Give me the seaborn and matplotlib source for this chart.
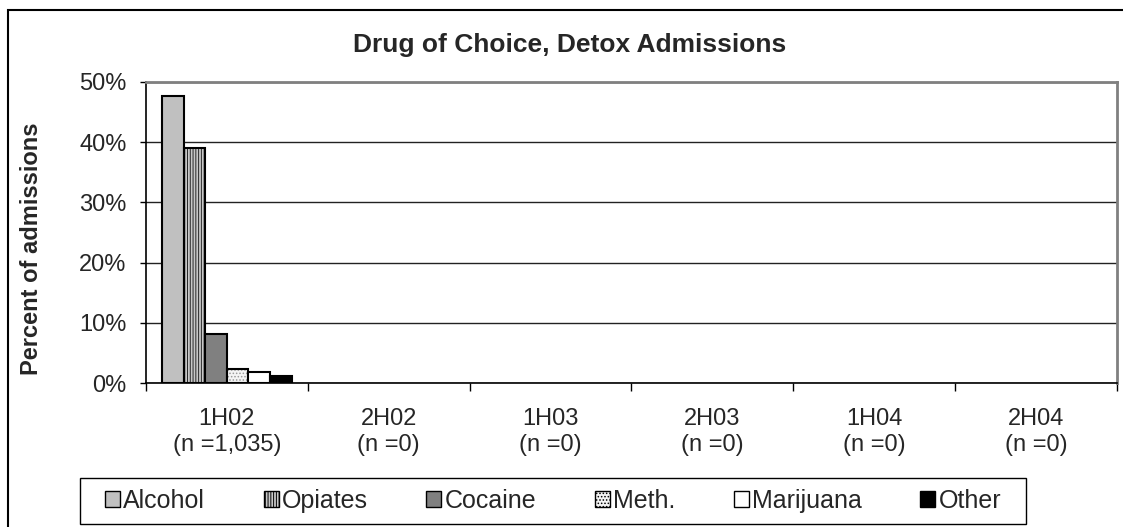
import numpy as np
import pandas as pd
import matplotlib
matplotlib.use("Agg")
import matplotlib.pyplot as plt
import matplotlib.patches as mpatches
import seaborn as sns

# ── data ──────────────────────────────────────
periods = ['1H02\n(n =1,035)', '2H02\n(n =0)', '1H03\n(n =0)',
           '2H03\n(n =0)', '1H04\n(n =0)', '2H04\n(n =0)']
drugs = ['Alcohol', 'Opiates', 'Cocaine', 'Meth.', 'Marijuana', 'Other']
# percent of admissions, one list per drug (1H02 .. 2H04)
alcohol   = [47.7, 0, 0, 0, 0, 0]
opiates   = [39.0, 0, 0, 0, 0, 0]
cocaine   = [8.2, 0, 0, 0, 0, 0]
meth      = [2.3, 0, 0, 0, 0, 0]
marijuana = [1.8, 0, 0, 0, 0, 0]
other     = [1.1, 0, 0, 0, 0, 0]
series = [alcohol, opiates, cocaine, meth, marijuana, other]

rows = []
for drug, vals in zip(drugs, series):
    for per, v in zip(periods, vals):
        rows.append({'period': per, 'drug': drug, 'pct': v})
df = pd.DataFrame(rows)

# ── styles ────────────────────────────────────
faces   = ['#c0c0c0', '#c8c8c8', '#808080', '#f4f4f4', 'white', 'black']
hatches = [None, '||||||', None, '.....', None, None]
hatch_cols = [None, (0.15, 0.15, 0.15, 1), None, (0.6, 0.6, 0.6, 1), None, None]

sns.set_style('white')
plt.rcParams['font.family'] = ['Liberation Sans', 'DejaVu Sans']
plt.rcParams['hatch.linewidth'] = 0.7
FS = 17

fig = plt.figure(figsize=(11.23, 5.27), dpi=100)
ax = fig.add_axes([146/1123, 1-383/527, (1117-146)/1123, (383-82)/527])

sns.barplot(data=df, x='period', y='pct', hue='drug', order=periods,
            hue_order=drugs, width=0.8, ax=ax, legend=False,
            edgecolor='black', linewidth=1.5, saturation=1)

for cont, fc, h, hc in zip(ax.containers, faces, hatches, hatch_cols):
    for p in cont.patches:
        p.set_facecolor(fc)
        p.set_edgecolor('black')
        if h:
            p.set_hatch(h)
            p._hatch_color = hc
        if p.get_height() == 0:
            p.set_linewidth(0)

# axes styling
ax.set_ylim(0, 50)
ax.set_xlim(-0.5, 5.5)
ax.set_yticks(np.arange(0, 51, 10))
ax.set_yticklabels([f'{v}%' for v in range(0, 51, 10)], fontsize=FS)
ax.yaxis.grid(True, color='#222222', linewidth=1)
ax.set_axisbelow(True)
ax.tick_params(axis='y', direction='out', length=4, width=1, color='black',
               left=True, pad=10)
ax.set_xticks(range(len(periods)))
ax.set_xticklabels(periods, fontsize=FS, linespacing=1.25)
ax.tick_params(axis='x', which='major', length=0, pad=18)
ax.set_xticks(np.arange(-0.5, 6, 1), minor=True)
ax.tick_params(axis='x', which='minor', direction='out', length=6,
               width=1, color='black', bottom=True)
ax.set_xlabel('')
ax.set_ylabel('')
for side in ['left', 'bottom']:
    ax.spines[side].set_color('black')
    ax.spines[side].set_linewidth(1.2)
for side in ['top', 'right']:
    ax.spines[side].set_color('#808080')
    ax.spines[side].set_linewidth(2)

# title and y label
fig.text(570/1123, 1-45/527, 'Drug of Choice, Detox Admissions',
         ha='center', va='center', fontsize=19, fontweight='bold')
fig.text(32/1123, 1-249/527, 'Percent of admissions', rotation=90,
         ha='center', va='center', fontsize=FS, fontweight='bold')

# legend (frame drawn separately so side padding is wider than top/bottom)
handles = []
for d, fc, h in zip(drugs, faces, hatches):
    handles.append(mpatches.Patch(facecolor=fc, edgecolor='black',
                                  hatch=h, linewidth=1, label=d))
leg = fig.legend(handles=handles, ncol=6, loc='center',
                 bbox_to_anchor=(553/1123, 1-501/527), fontsize=18,
                 frameon=False, handlelength=0.6, handleheight=0.6,
                 handletextpad=0.12, columnspacing=2.35, borderpad=0.2)
fig.add_artist(mpatches.Rectangle((80/1123, 1-524/527), 946/1123, 46/527,
                                  transform=fig.transFigure, fill=False,
                                  edgecolor='black', linewidth=1))

# outer chart border
fig.add_artist(mpatches.Rectangle((8/1123, -0.1), 1.2, 1.1-10/527,
                                  transform=fig.transFigure, fill=False,
                                  edgecolor='black', linewidth=1.5))

fig.savefig('out.png', dpi=100)
